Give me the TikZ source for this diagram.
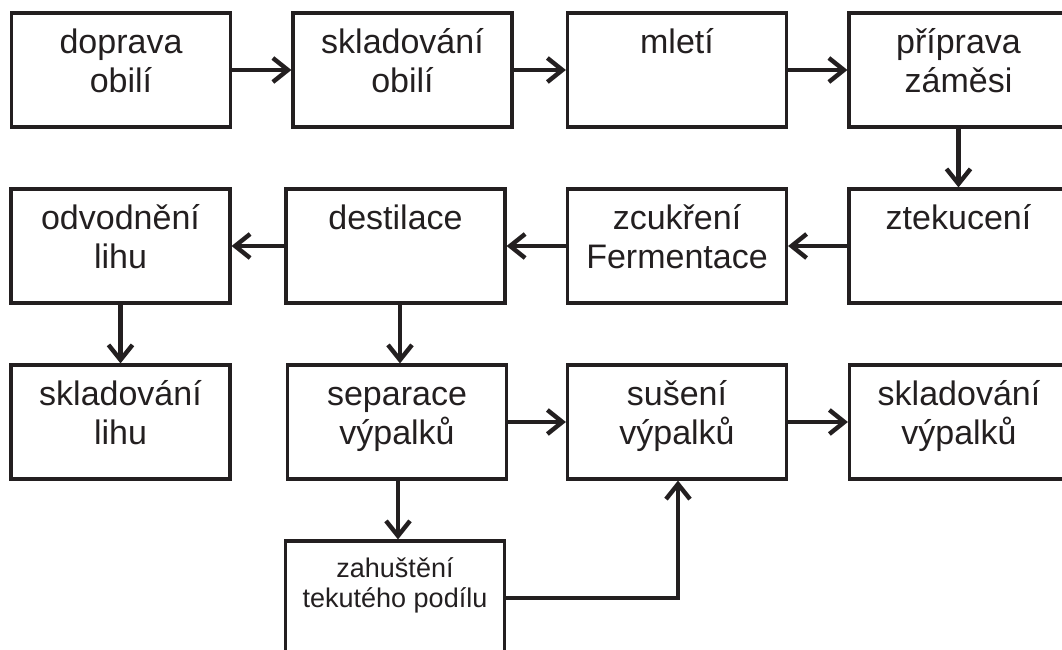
\documentclass[tikz,border=0pt]{standalone}
\usepackage{fontspec}
\setmainfont{Liberation Sans}
\usetikzlibrary{arrows.meta,calc}
\definecolor{ink}{RGB}{35,31,32}
\newcommand{\bt}[2]{\parbox[c][113pt][t]{215pt}{\centering\rule{0pt}{#1}#2}}
\begin{document}
\begin{tikzpicture}[x=1pt,y=-1pt,
  box/.style={draw=ink, line width=3.2pt, rectangle, inner sep=0pt, minimum width=219pt, minimum height=114pt, text=ink, font=\fontsize{34}{39}\selectfont},
  smallbox/.style={box, font=\fontsize{27}{30}\selectfont},
  arr/.style={draw=ink, line width=4.4pt, -{Straight Barb[length=15pt,width=24pt]}}]
\useasboundingbox (0,0) rectangle (1062,650);
% row 1
\node[box] (A1) at (121,70) {\bt{40pt}{doprava\\obilí}};
\node[box] (A2) at (402.5,70) {\bt{40pt}{skladování\\obilí}};
\node[box] (A3) at (677,70) {\bt{40pt}{mletí}};
\node[box] (A4) at (958.5,70) {\bt{40pt}{příprava\\záměsi}};
% row 2
\node[box] (B1) at (120.5,246) {\bt{40pt}{odvodnění\\lihu}};
\node[box] (B2) at (395.5,246) {\bt{40pt}{destilace}};
\node[box] (B3) at (677,246) {\bt{40pt}{zcukření\\Fermentace}};
\node[box] (B4) at (958.5,246) {\bt{40pt}{ztekucení}};
% row 3
\node[box] (C1) at (120.5,422) {\bt{40pt}{skladování\\lihu}};
\node[box] (C2) at (397,422) {\bt{40pt}{separace\\výpalků}};
\node[box] (C3) at (677,422) {\bt{40pt}{sušení\\výpalků}};
\node[box] (C4) at (959,422) {\bt{40pt}{skladování\\výpalků}};
% bottom
\node[smallbox] (D) at (395,598) {\bt{36pt}{zahuštění\\tekutého podílu}};
% helper x positions
\coordinate (xB2) at (400,0);
\coordinate (xC2) at (398,0);
\coordinate (xC3) at (678,0);
% arrows
\draw[arr] (A1) -- (A2);
\draw[arr] (A2) -- (A3);
\draw[arr] (A3) -- (A4);
\draw[arr] (A4) -- (B4);
\draw[arr] (B4) -- (B3);
\draw[arr] (B3) -- (B2);
\draw[arr] (B2) -- (B1);
\draw[arr] (B1) -- (C1);
\draw[arr] (B2.south -| xB2) -- (C2.north -| xB2);
\draw[arr] (C2) -- (C3);
\draw[arr] (C3) -- (C4);
\draw[arr] (C2.south -| xC2) -- (D.north -| xC2);
\draw[arr] (D.east) -| (C3.south -| xC3);
\end{tikzpicture}
\end{document}
